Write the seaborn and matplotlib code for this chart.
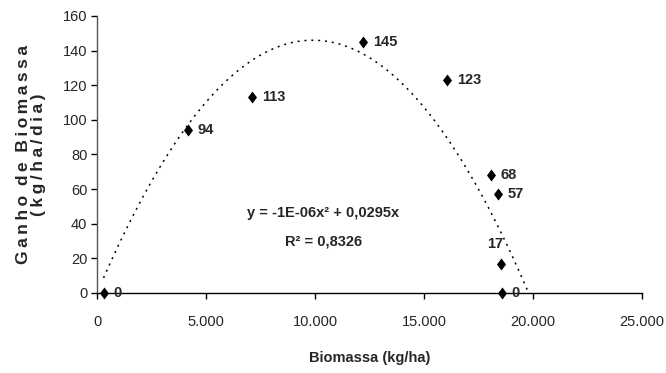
import numpy as np
import pandas as pd
import matplotlib
matplotlib.use("Agg")
import matplotlib.pyplot as plt
from matplotlib.path import Path
from matplotlib.ticker import FuncFormatter, MultipleLocator
import seaborn as sns

# Biomass (kg/ha) and biomass gain (kg/ha/day)
biomassa = [300, 4170, 7110, 12200, 16060, 18070, 18400, 18530, 18580]
ganho = [0, 94, 113, 145, 123, 68, 57, 17, 0]
rotulos = ["0", "94", "113", "145", "123", "68", "57", "17", "0"]

# Polynomial trend (intercept fixed at zero)
coef_a = -1.49e-6
coef_b = 0.0295
equacao = "y = -1E-06x² + 0,0295x"
r2_texto = "R² = 0,8326"

sns.set_theme(style="white")
plt.rcParams["font.family"] = ["Liberation Sans", "DejaVu Sans"]

fig = plt.figure(figsize=(6.66, 3.73), dpi=100)
ax = fig.add_axes([97 / 666, 1 - 293 / 373, (642 - 97) / 666, (293 - 16) / 373])

# trend curve, drawn from the first sample until it reaches zero
root = -coef_b / coef_a
xs = np.linspace(min(biomassa), root, 300)
trend = pd.DataFrame({"x": xs, "y": coef_a * xs ** 2 + coef_b * xs})
sns.lineplot(data=trend, x="x", y="y", ax=ax, color="black", lw=1.1,
             linestyle=(0, (1.3, 3.2)))

diamond = Path([(0, 1), (0.75, 0), (0, -1), (-0.75, 0), (0, 1)],
               [Path.MOVETO, Path.LINETO, Path.LINETO, Path.LINETO, Path.CLOSEPOLY])
pts = pd.DataFrame({"x": biomassa, "y": ganho})
sns.scatterplot(data=pts, x="x", y="y", ax=ax, marker=diamond, s=75,
                color="black", edgecolor="black", linewidth=0, zorder=5,
                clip_on=False)

for x, y, t in zip(biomassa, ganho, rotulos):
    if t == "17":
        ax.annotate(t, (x, y), xytext=(-4, 9), textcoords="offset points",
                    ha="center", va="bottom", fontsize=10.5, fontweight="bold")
    else:
        ax.annotate(t, (x, y), xytext=(7, 0), textcoords="offset points",
                    ha="left", va="center", fontsize=10.5, fontweight="bold")

ax.text(10370, 46, equacao, ha="center", va="center", fontsize=10.5,
        fontweight="bold")
ax.text(10370, 29.5, r2_texto, ha="center", va="center", fontsize=10.5,
        fontweight="bold")

ax.set_xlim(0, 25000)
ax.set_ylim(0, 160)
ax.xaxis.set_major_locator(MultipleLocator(5000))
ax.yaxis.set_major_locator(MultipleLocator(20))
ax.xaxis.set_major_formatter(FuncFormatter(lambda v, p: f"{int(v):,}".replace(",", ".")))

for s in ["top", "right"]:
    ax.spines[s].set_visible(False)
for s in ["left", "bottom"]:
    ax.spines[s].set_color("black")
    ax.spines[s].set_linewidth(1.0)
ax.spines["left"].set_color("#555555")

ax.tick_params(axis="both", which="major", direction="out", length=4, width=1,
               color="black", labelsize=10.5, bottom=True, left=True)
ax.tick_params(axis="x", pad=12)
ax.tick_params(axis="y", pad=3)

ax.set_xlabel("Biomassa (kg/ha)", fontsize=10.5, fontweight="bold", labelpad=16)
ts = "\u2009"
linha1 = ("  ").join(ts.join(w) for w in ["Ganho", "de", "Biomassa"])
linha2 = ts.join("(kg/ha/dia)")
ax.set_ylabel(linha1 + "\n" + linha2, fontsize=12.5, fontweight="bold",
              linespacing=1.0, labelpad=12)

fig.savefig("out.png", dpi=100)
